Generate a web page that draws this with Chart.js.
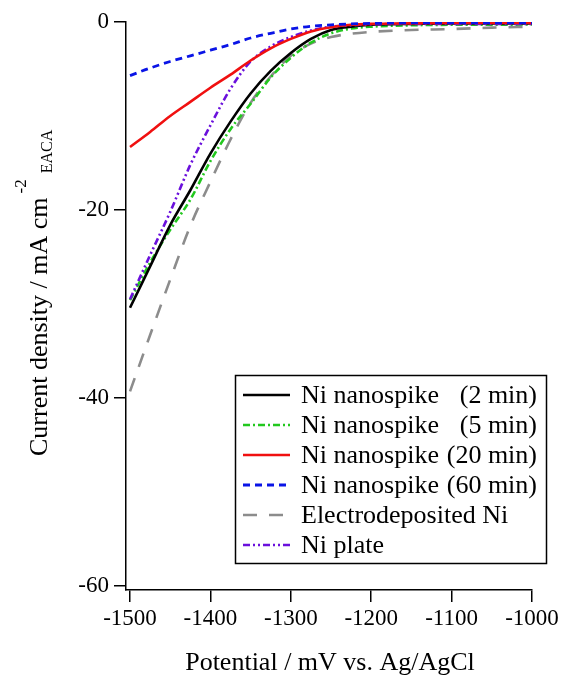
<!DOCTYPE html>
<html>
<head>
<meta charset="utf-8">
<script src="https://cdn.jsdelivr.net/npm/chart.js@4/dist/chart.umd.min.js"></script>
<style>
  html, body { margin: 0; padding: 0; background: #ffffff; }
  #wrap { width: 562px; height: 688px; }
</style>
</head>
<body>
<div id="wrap"><canvas id="c" width="562" height="688"></canvas></div>
<script>
// ---- data ----
const potentials = [-1500,-1475,-1450,-1425,-1400,-1375,-1350,-1325,-1300,-1275,-1250,-1225,-1200,-1150,-1100,-1050,-1000];
const nanospike2  = [-30.4,-26.0,-21.6,-17.9,-14.0,-10.6,-7.6,-5.2,-3.3,-1.8,-0.85,-0.5,-0.3,-0.2,-0.15,-0.15,-0.15];
const nanospike5  = [-29.6,-25.6,-22.1,-18.9,-14.8,-11.4,-8.7,-5.9,-3.8,-2.2,-1.2,-0.7,-0.5,-0.35,-0.3,-0.3,-0.25];
const nanospike20 = [-13.3,-11.7,-10.0,-8.5,-7.0,-5.6,-4.1,-2.8,-1.8,-1.0,-0.55,-0.3,-0.2,-0.15,-0.1,-0.1,-0.1];
const nanospike60 = [-5.7,-4.9,-4.2,-3.6,-3.0,-2.4,-1.7,-1.2,-0.75,-0.45,-0.3,-0.2,-0.15,-0.1,-0.1,-0.1,-0.1];
const electroNi   = [-39.3,-33.3,-27.4,-21.7,-17.0,-12.5,-8.6,-5.8,-3.6,-2.3,-1.6,-1.25,-1.05,-0.85,-0.75,-0.6,-0.5];
const niPlate     = [-29.5,-24.8,-20.2,-15.2,-11.0,-7.1,-4.2,-2.6,-1.6,-0.9,-0.5,-0.35,-0.25,-0.2,-0.2,-0.2,-0.2];

const xTicks = [-1500,-1400,-1300,-1200,-1100,-1000];
const yTicks = [0,-20,-40,-60];

const seriesNames = [
  ["Ni nanospike", "(2 min)"],
  ["Ni nanospike", "(5 min)"],
  ["Ni nanospike", "(20 min)"],
  ["Ni nanospike", "(60 min)"],
  ["Electrodeposited Ni", ""],
  ["Ni plate", ""]
];
const xTitle = "Potential / mV vs. Ag/AgCl";
const yTitleMain = "Current density / mA cm";
const yTitleSup = "-2";
const yTitleSub = "EACA";

const SERIF = '"Liberation Serif", "Times New Roman", "DejaVu Serif", serif';

function pts(arr) { return potentials.map((p, i) => ({ x: p, y: arr[i] })); }

const styles = [
  { color: '#000000', dash: [], width: 2.6 },
  { color: '#22c81e', dash: [7,3,2,3], width: 2.6 },
  { color: '#f01010', dash: [], width: 2.6 },
  { color: '#0a14e6', dash: [7,5], width: 2.8 },
  { color: '#8c8c8c', dash: [14,12], width: 2.6 },
  { color: '#6a10dc', dash: [7,3,2,3,2,3], width: 2.6 }
];
const seriesData = [nanospike2, nanospike5, nanospike20, nanospike60, electroNi, niPlate];

const datasets = seriesData.map((arr, i) => ({
  label: seriesNames[i].join(' '),
  data: pts(arr),
  borderColor: styles[i].color,
  borderDash: styles[i].dash,
  borderWidth: styles[i].width,
  pointRadius: 0,
  fill: false,
  cubicInterpolationMode: 'monotone',
  borderCapStyle: 'butt'
}));
const order = [4, 1, 0, 5, 2, 3];
order.forEach((idx, k) => { datasets[idx].order = 10 - k; });

const legendPlugin = {
  id: 'boxLegend',
  afterDraw(chart) {
    const ctx = chart.ctx;
    ctx.save();
    const bx = 235.5, by = 375.5, bw = 311, bh = 188;
    ctx.fillStyle = '#ffffff';
    ctx.fillRect(bx, by, bw, bh);
    ctx.strokeStyle = '#000000';
    ctx.lineWidth = 1.5;
    ctx.strokeRect(bx, by, bw, bh);
    ctx.font = '26px ' + SERIF;
    ctx.textBaseline = 'middle';
    ctx.fillStyle = '#000000';
    seriesNames.forEach((nm, i) => {
      const y = 395 + i * 30;
      const st = styles[i];
      ctx.beginPath();
      ctx.setLineDash(st.dash);
      ctx.strokeStyle = st.color;
      ctx.lineWidth = st.width;
      ctx.moveTo(243, y);
      ctx.lineTo(290, y);
      ctx.stroke();
      ctx.setLineDash([]);
      ctx.fillStyle = '#000000';
      ctx.textAlign = 'left';
      ctx.fillText(nm[0], 301, y + 1);
      if (nm[1]) {
        ctx.textAlign = 'right';
        ctx.fillText(nm[1], 537, y + 1);
      }
    });
    ctx.restore();
  }
};

const titlePlugin = {
  id: 'axisTitles',
  afterDraw(chart) {
    const ctx = chart.ctx;
    ctx.save();
    ctx.fillStyle = '#000000';
    ctx.font = '26px ' + SERIF;
    ctx.textAlign = 'center';
    ctx.textBaseline = 'middle';
    ctx.fillText(xTitle, 330, 663);
    ctx.translate(40, 456);
    ctx.rotate(-Math.PI / 2);
    ctx.textAlign = 'left';
    ctx.textBaseline = 'middle';
    ctx.font = '26px ' + SERIF;
    ctx.fillText(yTitleMain, 0, 0);
    const w = ctx.measureText(yTitleMain).width;
    ctx.font = '17px ' + SERIF;
    ctx.fillText(yTitleSup, w + 4, -18);
    const ws = ctx.measureText(yTitleSup).width;
    ctx.font = '16px ' + SERIF;
    ctx.fillText(yTitleSub, w + ws + 10, 8);
    ctx.restore();
  }
};

new Chart(document.getElementById('c'), {
  type: 'line',
  data: { datasets },
  options: {
    responsive: false,
    animation: false,
    layout: { padding: { top: 22, right: 30, left: 0, bottom: 0 } },
    plugins: { legend: { display: false }, tooltip: { enabled: false } },
    scales: {
      x: {
        type: 'linear',
        min: -1505,
        max: -1000,
        afterFit(scale) { scale.height = 98; },
        afterBuildTicks(scale) { scale.ticks = xTicks.map(v => ({ value: v })); },
        grid: { display: true, drawOnChartArea: false, drawTicks: true, tickLength: 12, color: '#000000', lineWidth: 1.5 },
        border: { display: true, color: '#000000', width: 1.5 },
        ticks: { color: '#000000', font: { family: SERIF, size: 23 }, padding: 3, maxRotation: 0, autoSkip: false,
                 callback: v => String(v) }
      },
      y: {
        type: 'linear',
        min: -60.43,
        max: 0,
        afterFit(scale) { scale.width = 126; },
        afterBuildTicks(scale) { scale.ticks = yTicks.map(v => ({ value: v })); },
        grid: { display: true, drawOnChartArea: false, drawTicks: true, tickLength: 12, color: '#000000', lineWidth: 1.5 },
        border: { display: true, color: '#000000', width: 1.5 },
        ticks: { color: '#000000', font: { family: SERIF, size: 23 }, padding: 5, autoSkip: false,
                 callback: v => String(v) }
      }
    }
  },
  plugins: [legendPlugin, titlePlugin]
});
</script>
</body>
</html>
